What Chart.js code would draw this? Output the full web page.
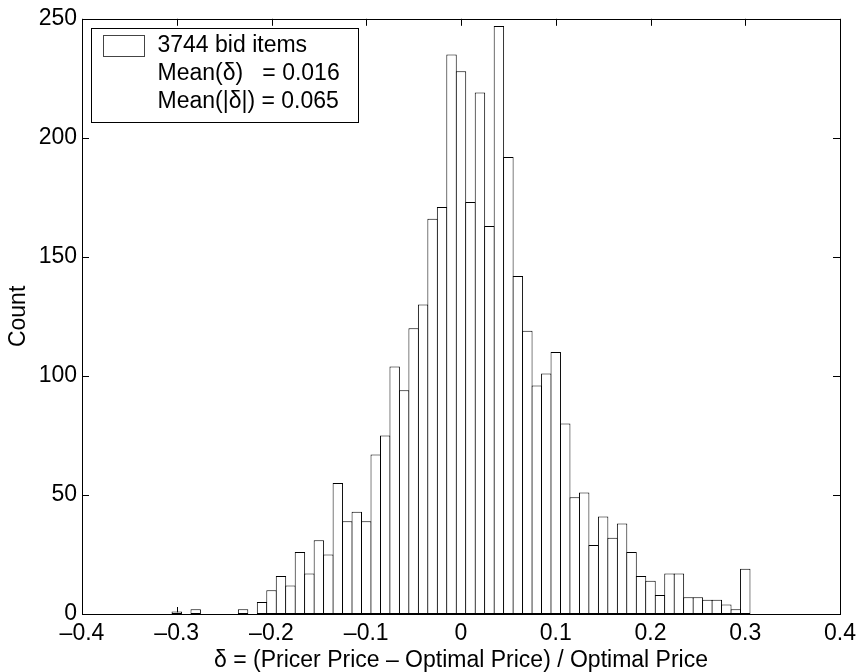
<!doctype html>
<html lang="en">
  <head>
    <meta charset="utf-8">
    <title>Pricer histogram</title>
    <script src="https://cdn.jsdelivr.net/npm/chart.js@4.4.0/dist/chart.umd.min.js"></script>
    <style>
      html, body { margin: 0; padding: 0; background: #fff; }
    </style>
  </head>
  <body>
    <canvas id="hist" width="862" height="672"></canvas>

  <script>
    // bin centres (width 0.01) and counts
    var binCenters = [-0.30, -0.29, -0.28, -0.27, -0.26, -0.25, -0.24, -0.23, -0.22, -0.21,
                      -0.20, -0.19, -0.18, -0.17, -0.16, -0.15, -0.14, -0.13, -0.12, -0.11,
                      -0.10, -0.09, -0.08, -0.07, -0.06, -0.05, -0.04, -0.03, -0.02, -0.01,
                       0.00,  0.01,  0.02,  0.03,  0.04,  0.05,  0.06,  0.07,  0.08,  0.09,
                       0.10,  0.11,  0.12,  0.13,  0.14,  0.15,  0.16,  0.17,  0.18,  0.19,
                       0.20,  0.21,  0.22,  0.23,  0.24,  0.25,  0.26,  0.27,  0.28,  0.29,
                       0.30];
    var counts = [1, 0, 2, 0, 0, 0, 0, 2, 0, 5,
                  10, 16, 12, 26, 17, 31, 25, 55, 39, 43,
                  39, 67, 75, 104, 94, 120, 130, 166, 171, 235,
                  228, 173, 219, 163, 247, 192, 142, 119, 96, 101,
                  110, 80, 49, 51, 29, 41, 32, 38, 26, 16,
                  14, 8, 17, 17, 7, 7, 6, 6, 4, 2,
                  19];
    var xTicks = [-0.4, -0.3, -0.2, -0.1, 0, 0.1, 0.2, 0.3, 0.4];
    var yTicks = [0, 50, 100, 150, 200, 250];
    var legendLines = ['3744 bid items', 'Mean(\u03b4)   = 0.016', 'Mean(|\u03b4|) = 0.065'];

    var FONT = '"Liberation Sans", Arial, Helvetica, sans-serif';
    var FSIZE = 23;

    function fmtTick(v){
      var r = Math.round(v*10)/10;
      if (r === 0) return '0';
      return (r < 0 ? '\u2013' : '') + Math.abs(r);
    }

    // matlab style box with inward ticks, drawn under the bars
    var boxTicks = {
      id: 'boxTicks',
      beforeDatasetsDraw: function(chart){
        var c = chart.ctx, a = chart.chartArea;
        var xs = chart.scales.x, ys = chart.scales.y, tl = 7;
        c.save();
        c.strokeStyle = '#000';
        c.lineWidth = 1;
        c.beginPath();
        xTicks.forEach(function(t){
          var px = Math.round(xs.getPixelForValue(t)) + 0.5;
          c.moveTo(px, a.bottom); c.lineTo(px, a.bottom - tl);
          c.moveTo(px, a.top); c.lineTo(px, a.top + tl);
        });
        yTicks.forEach(function(t){
          var py = Math.round(ys.getPixelForValue(t)) + 0.5;
          c.moveTo(a.left, py); c.lineTo(a.left + tl, py);
          c.moveTo(a.right, py); c.lineTo(a.right - tl, py);
        });
        c.stroke();
        c.restore();
      },
      afterDatasetsDraw: function(chart){
        var c = chart.ctx, a = chart.chartArea;
        c.save();
        c.strokeStyle = '#000';
        c.lineWidth = 1;
        c.strokeRect(Math.round(a.left)+0.5, Math.round(a.top)+0.5,
                     Math.round(a.right-a.left), Math.round(a.bottom-a.top));

        // legend box
        var lx = Math.round(a.left) + 9.5, ly = Math.round(a.top) + 9.5;
        c.fillStyle = '#fff';
        c.fillRect(lx, ly, 267, 94);
        c.strokeRect(lx, ly, 267, 94);
        c.strokeStyle = '#444';
        c.strokeRect(lx + 12, ly + 7, 41, 21);
        c.fillStyle = '#000';
        c.font = FSIZE + 'px ' + FONT;
        c.textBaseline = 'alphabetic';
        legendLines.forEach(function(s, i){
          c.fillText(s, lx + 66, ly + 23 + i*28.3);
        });
        c.restore();
      }
    };

    var ctx = document.getElementById('hist').getContext('2d');
    var hist = new Chart(ctx, {
      type: 'bar',
      data: {
        datasets: [{
          data: binCenters.map(function(b, i){ return {x: b, y: counts[i]}; }),
          backgroundColor: '#fff',
          borderColor: '#000',
          borderWidth: 1,
          borderSkipped: false,
          barPercentage: 1.1,
          categoryPercentage: 1.0
        }]
      },
      options: {
        responsive: false,
        animation: false,
        layout: { padding: { top: 12, right: 17, left: 0, bottom: 0 } },
        plugins: { legend: { display: false }, tooltip: { enabled: false } },
        scales: {
          x: {
            type: 'linear',
            min: -0.4, max: 0.4,
            offset: false,
            grid: { display: false, drawTicks: false },
            border: { display: false },
            afterBuildTicks: function(s){ s.ticks = xTicks.map(function(v){ return {value: v}; }); },
            afterFit: function(s){ s.height = 58; },
            ticks: {
              color: '#000', padding: 6, maxRotation: 0, autoSkip: false,
              font: { family: FONT, size: FSIZE },
              callback: function(v){ return fmtTick(v); }
            },
            title: {
              display: true,
              text: '\u03b4 = (Pricer Price \u2013 Optimal Price) / Optimal Price',
              color: '#000',
              font: { family: FONT, size: FSIZE },
              padding: { top: 0, bottom: -2 }
            }
          },
          y: {
            min: 0, max: 250,
            grid: { display: false, drawTicks: false },
            border: { display: false },
            afterBuildTicks: function(s){ s.ticks = yTicks.map(function(v){ return {value: v}; }); },
            afterFit: function(s){ s.width = 82; },
            ticks: {
              color: '#000', padding: 5,
              font: { family: FONT, size: FSIZE }
            },
            title: {
              display: true,
              text: 'Count',
              color: '#000',
              font: { family: FONT, size: FSIZE },
              padding: { top: 5, bottom: 0 }
            }
          }
        }
      },
      plugins: [boxTicks]
    });
  </script>
  </body>
</html>
